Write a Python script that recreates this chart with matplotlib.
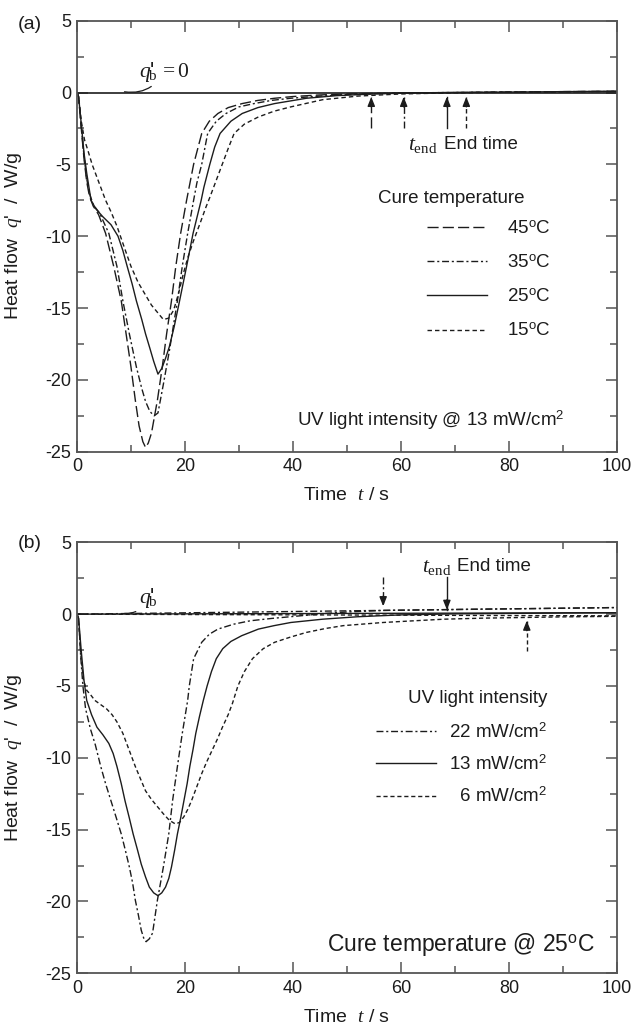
import numpy as np
import matplotlib
matplotlib.use("Agg")
import matplotlib.pyplot as plt

plt.rcParams['font.family'] = ['Liberation Sans', 'DejaVu Sans']
plt.rcParams['mathtext.fontset'] = 'custom'
plt.rcParams['mathtext.rm'] = 'Liberation Serif'
plt.rcParams['mathtext.it'] = 'Liberation Serif:italic'
plt.rcParams['mathtext.sf'] = 'Liberation Sans'

# ---------------- data: panel (a), cure temperature series ----------------
t_45 = [0, 0.3, 0.8, 1.3, 1.8, 2.3, 3, 4, 5.3, 6.8, 8.2, 9.1, 10, 10.8, 11.5, 12.2, 12.7, 13.2, 13.8,
        14.9, 15.8, 16.6, 17.5, 18.3, 19.2, 20.3, 21.6, 23.1, 24.5, 26.1, 28, 30.6, 33.5, 36.6, 40, 45,
        50, 60, 70, 80, 90, 100]
q_45 = [0, -0.3, -2.5, -4.6, -6.2, -7.2, -7.9, -8.5, -9.8, -12.1, -14.5, -16.8, -19.1, -21.4, -23.2,
        -24.3, -24.7, -24.4, -23.7, -21.4, -19.1, -16.8, -14.5, -12.1, -9.8, -7.5, -5.0, -2.85, -2.0,
        -1.46, -1.05, -0.77, -0.55, -0.4, -0.28, -0.17, -0.1, -0.03, 0.0, 0.03, 0.06, 0.08]

t_35 = [0, 0.3, 0.8, 1.3, 1.8, 2.3, 3, 4.2, 5.9, 7.4, 8.5, 9.7, 11, 12.0, 12.7, 13.5, 14.3, 15.0, 16.0,
        17.1, 18.6, 19.5, 20.5, 21.6, 22.2, 23.1, 24.2, 25.8, 27.6, 30, 32.8, 36, 39.6, 45, 50, 55, 60,
        70, 80, 90, 100]
q_35 = [0, -0.3, -2.4, -4.4, -6.0, -7.0, -7.8, -8.4, -9.8, -12.1, -14.5, -16.8, -19.1, -20.6, -21.5,
        -22.2, -22.5, -22.3, -20.3, -18.0, -14.5, -12.1, -9.8, -7.5, -6.3, -5.0, -2.85, -2.0, -1.46,
        -1.0, -0.77, -0.55, -0.4, -0.25, -0.15, -0.08, -0.03, 0.0, 0.03, 0.06, 0.08]

t_25 = [0, 0.3, 0.8, 1.3, 1.8, 2.6, 3.5, 4.8, 6.3, 7.6, 8.5, 9.3, 10.2, 11.0, 12.0, 12.7, 13.5, 14.2,
        15.0, 15.7, 16.4, 17.1, 18.0, 19.0, 20.3, 21.5, 23.0, 23.5, 24.6, 25.5, 26.5, 28.5, 30.6, 33.5,
        36.6, 42.5, 48, 55, 62, 70, 80, 90, 100]
q_25 = [0, -0.3, -2.2, -4.2, -5.6, -7.5, -8.1, -8.65, -9.2, -10.0, -11.0, -12.1, -13.3, -14.5, -15.8,
        -16.8, -17.8, -18.7, -19.6, -19.2, -18.5, -17.7, -16.3, -14.5, -12.1, -9.8, -7.5, -6.6, -5.0,
        -3.8, -2.85, -2.0, -1.46, -1.05, -0.77, -0.4, -0.22, -0.1, -0.03, 0.0, 0.03, 0.06, 0.08]

t_15 = [0, 0.3, 0.8, 1.4, 2.0, 2.8, 3.6, 4.5, 5.3, 6.3, 7.4, 8.6, 10.0, 11.3, 12.7, 13.8, 14.9, 16.0,
        17.0, 17.9, 18.8, 19.7, 20.6, 21.6, 22.8, 23.9, 24.6, 25.8, 26.9, 28.0, 29.1, 31, 33.6, 36.5,
        39.6, 45.5, 52, 60, 70, 80, 90, 100]
q_15 = [0, -0.3, -2.0, -3.3, -4.0, -5.0, -5.8, -6.7, -7.5, -8.3, -9.3, -10.6, -12.1, -13.2, -14.1,
        -14.8, -15.3, -15.8, -15.7, -15.15, -14.0, -12.6, -11.4, -10.3, -9.1, -7.96, -7.3, -6.1, -5.0,
        -3.9, -2.85, -2.2, -1.7, -1.3, -1.0, -0.5, -0.25, -0.1, -0.02, 0.02, 0.05, 0.08]

labels_a = ["45$^{\\mathsf{o}}$C", "35$^{\\mathsf{o}}$C", "25$^{\\mathsf{o}}$C", "15$^{\\mathsf{o}}$C"]
end_times_a = [54.5, 60.5, 68.5, 72.1]

# ---------------- data: panel (b), UV light intensity series ----------------
t_22 = [0, 0.3, 0.7, 1.1, 1.6, 2.5, 3.4, 4.4, 5.3, 6.3, 7.3, 8.2, 9.0, 9.7, 10.3, 10.8, 11.4, 11.9,
        12.4, 12.8, 13.4, 14.0, 14.9, 16.0, 17.0, 17.7, 18.6, 19.5, 20.5, 20.8, 21.6, 23.1, 24.5, 26.1,
        29, 32.1, 36, 41.8, 46, 50, 56.7, 65, 75, 85, 100]
q_22 = [0, -0.3, -3.0, -5.0, -6.6, -8.0, -9.1, -10.6, -11.8, -13.0, -14.2, -15.3, -16.5, -17.6, -18.7,
        -19.9, -21.0, -22.0, -22.6, -22.8, -22.6, -22.2, -19.9, -17.6, -15.3, -13.0, -10.6, -8.3, -6.0,
        -5.0, -3.1, -1.96, -1.4, -1.04, -0.7, -0.46, -0.3, -0.1, 0.05, 0.15, 0.26, 0.3, 0.35, 0.39, 0.46]

t_13 = [0, 0.3, 0.8, 1.3, 1.8, 2.7, 3.7, 4.8, 5.9, 6.7, 7.4, 8.2, 8.9, 9.7, 10.4, 11.2, 11.9, 12.7,
        13.4, 14.2, 15.0, 15.7, 16.4, 17.0, 17.5, 18.1, 18.6, 19.2, 19.8, 20.4, 20.9, 21.5, 22.0, 22.7,
        23.4, 24.1, 24.9, 25.8, 27.0, 28.5, 30.5, 33.6, 36.5, 39.6, 45.5, 52, 60, 70, 80, 90, 100]
q_13 = [0, -0.3, -2.6, -4.6, -6.0, -7.0, -7.87, -8.4, -9.0, -9.7, -10.6, -11.8, -13.0, -14.2, -15.3,
        -16.4, -17.4, -18.3, -19.0, -19.4, -19.6, -19.4, -19.0, -18.4, -17.6, -16.4, -15.3, -14.2,
        -13.0, -11.8, -10.6, -9.4, -8.3, -7.1, -6.0, -5.0, -4.0, -3.1, -2.4, -1.9, -1.5, -1.04, -0.8,
        -0.58, -0.35, -0.18, -0.05, 0.02, 0.05, 0.08, 0.1]

t_6 = [0, 0.3, 0.7, 1.2, 1.8, 2.5, 3.3, 4.4, 5.5, 6.5, 7.4, 8.5, 9.7, 10.8, 11.8, 12.7, 13.8, 14.9,
       16.0, 17.1, 18.2, 19.0, 19.8, 20.5, 21.2, 22.1, 23.1, 24.0, 25.0, 26.0, 26.9, 28.0, 28.8, 29.8,
       31.0, 32.5, 34.5, 36.6, 39.5, 42.5, 46, 49.3, 56.7, 62, 68, 75, 83, 90, 100]
q_6 = [0, -0.3, -2.8, -4.6, -5.3, -5.6, -6.0, -6.3, -6.6, -7.0, -7.5, -8.3, -9.5, -10.6, -11.5, -12.3,
       -12.9, -13.4, -13.9, -14.35, -14.6, -14.5, -14.1, -13.6, -13.0, -12.1, -11.1, -10.3, -9.5, -8.7,
       -7.9, -7.0, -6.2, -5.0, -4.0, -3.1, -2.4, -1.96, -1.6, -1.27, -1.0, -0.8, -0.58, -0.47, -0.35,
       -0.28, -0.23, -0.19, -0.15]

labels_b = ["22 mW/cm$^{\\mathsf{2}}$", "13 mW/cm$^{\\mathsf{2}}$", "  6 mW/cm$^{\\mathsf{2}}$"]
baseline_end_b = [0.46, 0.1, -0.12]   # q'_b at t = 100 for 22, 13, 6 mW/cm2
end_times_b = [56.7, 68.5, 83.3]

# ---------------- styles ----------------
INK = '#1c1c1c'
SPINE = '#555555'
LW = 1.0
ls_45 = (0, (8, 3))
ls_35 = (0, (5, 2, 1.5, 2))
ls_25 = '-'
ls_15 = (0, (3.2, 2.2))
FS = 13.5      # annotation text
TFS = 13       # tick labels
LFS = 14       # axis labels
QB = "$q$'$_{\\!\\!\\!\\mathrm{b}}$"

fig = plt.figure(figsize=(6.33, 10.33), dpi=100)
ax_a = fig.add_axes([0.1216, 0.5627, 0.8531, 0.4173])
ax_b = fig.add_axes([0.1216, 0.0578, 0.8531, 0.4172])


def style_axes(ax):
    ax.set_xlim(0, 100)
    ax.set_ylim(-25, 5)
    ax.set_xticks(np.arange(0, 101, 20))
    ax.set_xticks(np.arange(10, 100, 20), minor=True)
    ax.set_yticks(np.arange(-25, 6, 5))
    ax.set_yticks(np.arange(-22.5, 5, 5), minor=True)
    ax.set_yticklabels([f"{v:d}" for v in range(-25, 6, 5)])
    for s in ax.spines.values():
        s.set_color(SPINE)
        s.set_linewidth(1.3)
    ax.tick_params(which='both', direction='in', top=True, right=True, color=SPINE,
                   width=1.1, labelsize=TFS, labelcolor=INK)
    ax.tick_params(which='major', length=8)
    ax.tick_params(which='minor', length=5)
    ax.tick_params(axis='x', pad=4.5)
    ax.tick_params(axis='y', pad=4)
    ax.set_xlabel("Time  $t$ / s", fontsize=LFS, color=INK, labelpad=9)
    ax.set_ylabel("Heat flow  $q$'  /  W/g", fontsize=LFS, color=INK)
    ax.yaxis.set_label_coords(-0.098, 0.5)


def arrow(ax, t, y_tail, y_tip, ls):
    ax.plot([t, t], [y_tail, y_tip], color=INK, lw=LW, linestyle=ls)
    d = 1 if y_tip > y_tail else -1
    ax.annotate('', xy=(t, y_tip), xytext=(t, y_tip - d * 0.7),
                arrowprops=dict(arrowstyle='-|>,head_length=0.55,head_width=0.22',
                                color=INK, lw=LW, shrinkA=0, shrinkB=0))


# ---------------- panel (a) ----------------
style_axes(ax_a)
ax_a.plot([0, 100], [0, 0], color=INK, lw=1.2)
series_a = [(t_45, q_45, ls_45), (t_35, q_35, ls_35), (t_25, q_25, ls_25), (t_15, q_15, ls_15)]
for (t, q, ls), lab in zip(series_a, labels_a):
    ax_a.plot(t, q, color=INK, lw=LW, linestyle=ls, label=lab)
for tt, (_, _, ls) in zip(end_times_a, series_a):
    arrow(ax_a, tt, -2.5, -0.3, ls)
ax_a.text(61.3, -3.6, "$t_{\\mathrm{end}}$", fontsize=15.5, va='center', ha='left', color=INK)
ax_a.text(68.0, -3.6, "End time", fontsize=FS, va='center', ha='left', color=INK)
ax_a.annotate(QB + "$\\,= \\mathrm{0}$", xy=(8.8, 0.05), xytext=(11.4, 1.45),
              fontsize=15.5, va='center', ha='left', color=INK,
              arrowprops=dict(arrowstyle='-', color=INK, lw=0.9, shrinkA=0, shrinkB=0,
                              connectionstyle='arc3,rad=-0.35'))
ax_a.text(55.7, -7.35, "Cure temperature", fontsize=FS, va='center', ha='left', color=INK)
ax_a.legend(frameon=False, loc='upper left', bbox_to_anchor=(0.648, 0.537), borderpad=0,
            borderaxespad=0, handlelength=3.2, handletextpad=1.05, labelspacing=0.9,
            fontsize=FS, labelcolor=INK)
ax_a.text(40.7, -22.8, "UV light intensity @ 13 mW/cm$^{\\mathsf{2}}$", fontsize=FS,
          va='center', ha='left', color=INK)
fig.text(0.047, 0.976, "(a)", fontsize=LFS, va='center', ha='center', color=INK)

# ---------------- panel (b) ----------------
style_axes(ax_b)
series_b = [(t_22, q_22, ls_35), (t_13, q_13, ls_25), (t_6, q_6, (0, (3, 2)))]
for (t, q, ls), lab, be in zip(series_b, labels_b, baseline_end_b):
    ax_b.plot(t, q, color=INK, lw=LW, linestyle=ls, label=lab)
    ax_b.plot([0, 100], [0, be], color=INK, lw=LW, linestyle=ls)
arrow(ax_b, end_times_b[0], 2.6, 0.55, ls_35)
arrow(ax_b, end_times_b[1], 2.6, 0.3, ls_25)
arrow(ax_b, end_times_b[2], -2.55, -0.45, (0, (3, 2)))
ax_b.text(63.8, 3.35, "$t_{\\mathrm{end}}$", fontsize=15.5, va='center', ha='left', color=INK)
ax_b.text(70.3, 3.35, "End time", fontsize=FS, va='center', ha='left', color=INK)
ax_b.annotate(QB, xy=(8.8, 0.05), xytext=(11.4, 1.1),
              fontsize=15.5, va='center', ha='left', color=INK,
              arrowprops=dict(arrowstyle='-', color=INK, lw=0.9, shrinkA=0, shrinkB=0,
                              connectionstyle='arc3,rad=-0.35'))
ax_b.text(61.3, -5.9, "UV light intensity", fontsize=FS, va='center', ha='left', color=INK)
ax_b.legend(frameon=False, loc='upper left', bbox_to_anchor=(0.553, 0.582), borderpad=0,
            borderaxespad=0, handlelength=3.2, handletextpad=0.7, labelspacing=0.68,
            fontsize=FS, labelcolor=INK)
ax_b.text(46.3, -23.0, "Cure temperature @ 25$^{\\mathsf{o}}$C", fontsize=16.5,
          va='center', ha='left', color=INK)
fig.text(0.047, 0.4735, "(b)", fontsize=LFS, va='center', ha='center', color=INK)

fig.savefig("out.png", dpi=100)
